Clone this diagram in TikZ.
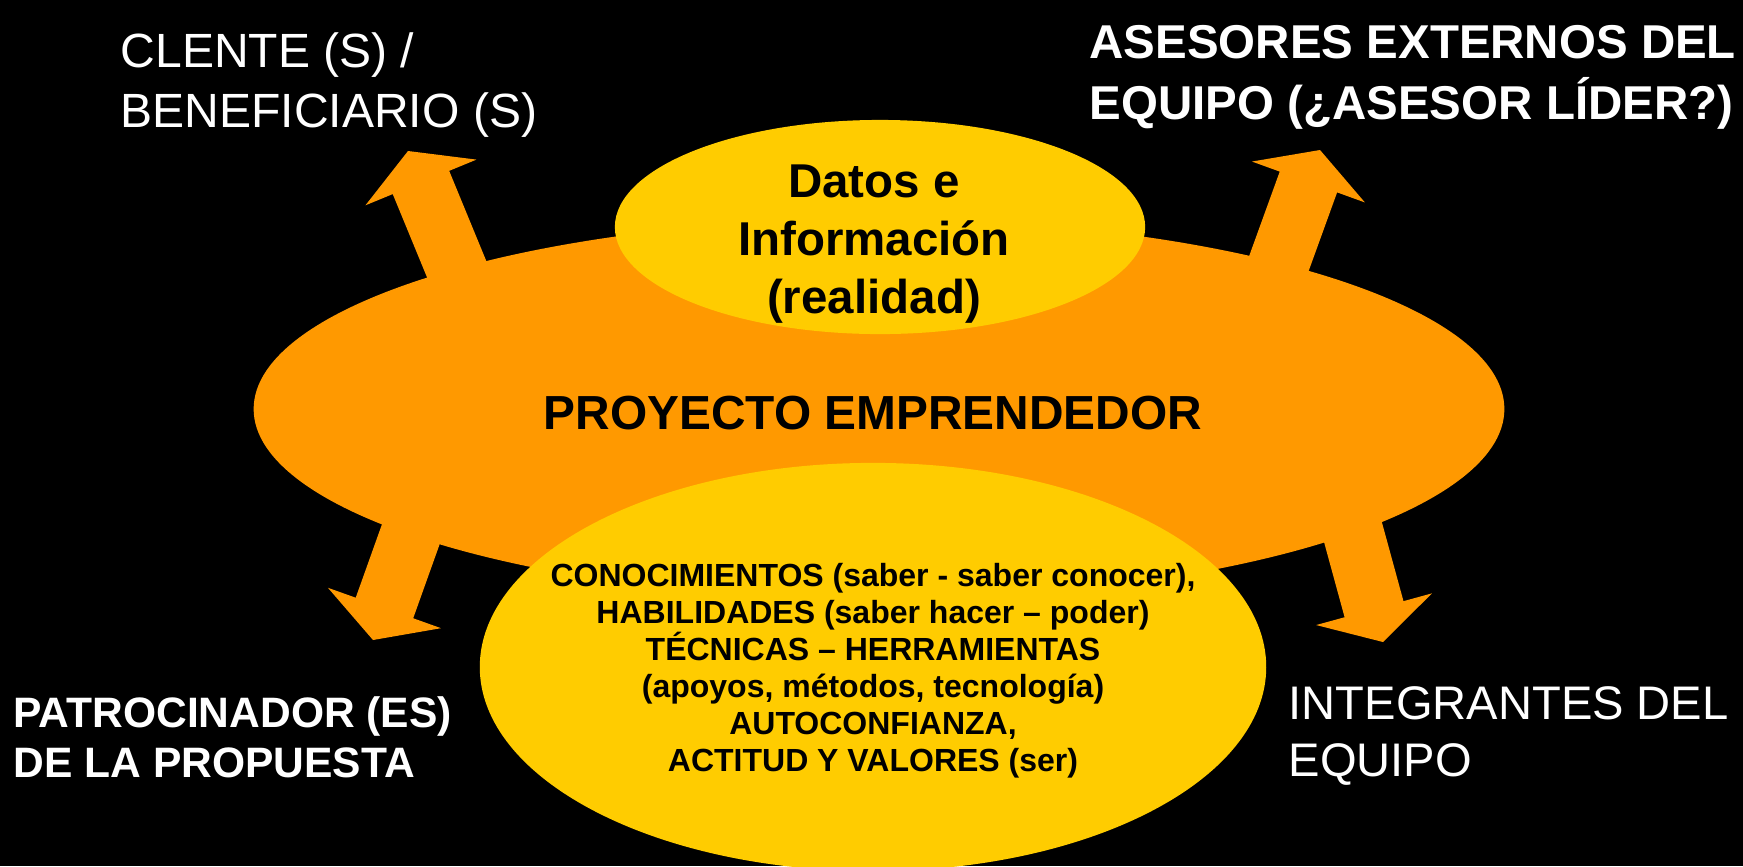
\documentclass[tikz,border=0pt]{standalone}
\usepackage{fontspec}
\setmainfont{Liberation Sans}
\usetikzlibrary{calc}
\definecolor{naranja}{RGB}{255,153,0}
\definecolor{amarillo}{RGB}{255,204,0}

\begin{document}
\begin{tikzpicture}[x=0.01cm,y=-0.01cm,
    rotulo/.style={text=white,inner sep=0pt,align=left},
    centro/.style={text=black,inner sep=0pt,align=center}]
        \fill[black] (0,0) rectangle (1743,866);
        \useasboundingbox (0,0) rectangle (1743,866);

        % flechas hacia los actores
        \foreach \nombre/\bx/\by/\tx/\ty in {cli/492/355/408/151, ase/1245/357/1320/150, pat/447/433/373/640, int/1325/430/1383/642}{
            \coordinate (\nombre-b) at (\bx,\by);
            \coordinate (\nombre-t) at (\tx,\ty);
            \coordinate (\nombre-n) at ($(\nombre-t)!0.34cm!(\nombre-b)$);
            \fill[naranja] ($(\nombre-b)!0.305cm!90:(\nombre-t)$) -- ($(\nombre-n)!0.305cm!90:(\nombre-t)$)
                -- ($(\nombre-n)!0.6cm!90:(\nombre-t)$) -- (\nombre-t)
                -- ($(\nombre-n)!0.6cm!-90:(\nombre-t)$) -- ($(\nombre-n)!0.305cm!-90:(\nombre-t)$)
                -- ($(\nombre-b)!0.305cm!-90:(\nombre-t)$) -- cycle;
        }

        \fill[naranja] (879,409) ellipse [x radius=6.25cm, y radius=1.9cm];
        \fill[amarillo] (880,227) ellipse [x radius=2.65cm, y radius=1.07cm];
        \fill[amarillo] (873,667) ellipse [x radius=3.93cm, y radius=2.04cm];

        \node[centro, font=\bfseries\fontsize{13.5}{16.5}\selectfont] (datos) at (874,244) {Datos e\\Información\\(realidad)};
        \node[centro, font=\bfseries\fontsize{13.6}{16}\selectfont] (proyecto) at (873,413) {PROYECTO EMPRENDEDOR};
        \node[centro, font=\bfseries\fontsize{9.1}{10.5}\selectfont] (saberes) at (873,671) {CONOCIMIENTOS (saber - saber conocer),\\HABILIDADES (saber hacer – poder)\\TÉCNICAS – HERRAMIENTAS\\(apoyos, métodos, tecnología)\\AUTOCONFIANZA,\\ACTITUD Y VALORES (ser)};

        \node[rotulo, anchor=west, font=\fontsize{13.66}{17.1}\selectfont] (cliente) at (120,85) {CLENTE (S) /\\BENEFICIARIO (S)};
        \node[rotulo, anchor=west, font=\bfseries\fontsize{13.5}{17.4}\selectfont] (asesores) at (1089,77) {ASESORES EXTERNOS DEL\\EQUIPO (¿ASESOR LÍDER?)};
        \node[rotulo, anchor=west, font=\bfseries\fontsize{12.1}{14.2}\selectfont] (patrocinador) at (13,737) {PATROCINADOR (ES)\\DE LA PROPUESTA};
        \node[rotulo, anchor=west, font=\fontsize{13.4}{16.2}\selectfont] (integrantes) at (1288,736) {INTEGRANTES DEL\\EQUIPO};
    \end{tikzpicture}
\end{document}
